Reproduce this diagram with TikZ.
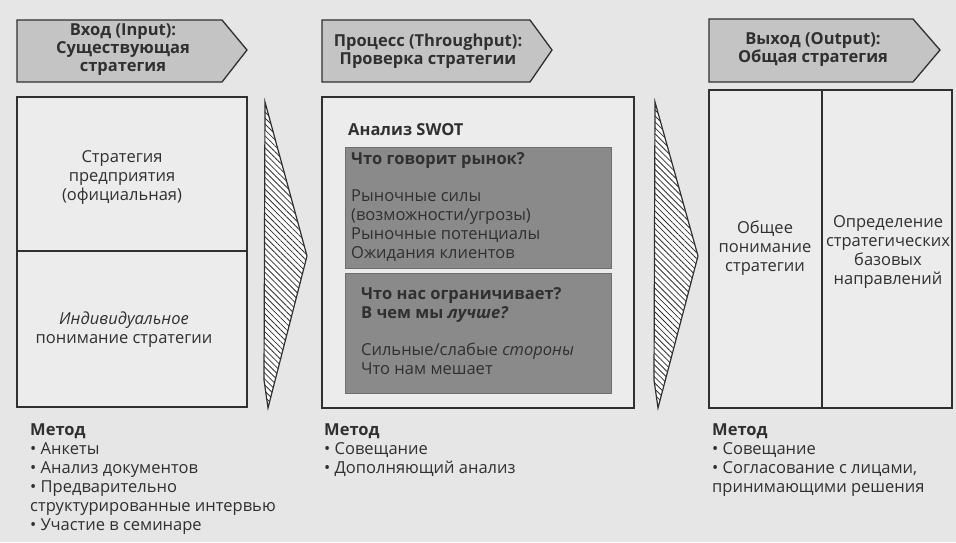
\documentclass[tikz,border=0pt]{standalone}
\usepackage{fontspec}
\setmainfont{Open Sans}
\usetikzlibrary{patterns.meta}
\definecolor{bg}{RGB}{230,230,230}
\definecolor{boxbg}{RGB}{236,236,236}
\definecolor{hdr}{RGB}{196,196,196}
\definecolor{dark}{RGB}{138,138,138}
\definecolor{ink}{RGB}{48,48,48}
\begin{document}
\begin{tikzpicture}[x=1pt,y=-1pt,
  frame/.style={draw=ink, line width=1.5pt, fill=boxbg},
  hdrbox/.style={draw=ink, line width=1.3pt, fill=hdr},
  darkbox/.style={fill=dark, draw=dark!80!black, line width=0.6pt},
  hatch/.style={draw=ink, line width=1.2pt, fill=white, postaction={pattern={Lines[angle=-45, distance=4.2pt, line width=0.8pt]}, pattern color=ink}},
  hdrtxt/.style={font=\fontsize{16.5}{18}\selectfont\bfseries, text=ink, align=center, inner sep=0pt},
  body/.style={font=\fontsize{16.5}{19}\selectfont, text=ink, align=center, inner sep=0pt},
  bodyl/.style={font=\fontsize{16.5}{19}\selectfont, text=ink, align=left, inner sep=0pt},
  bodyb/.style={bodyl, font=\fontsize{16.5}{19}\selectfont\bfseries},
]
\fill[bg] (0,0) rectangle (956,542);
\useasboundingbox (0,0) rectangle (956,542);

% headers
\draw[hdrbox] (17,20) -- (222,20) -- (247,50) -- (222,82) -- (17,82) -- cycle;
\node[hdrtxt] (h1) at (123,50) {Вход (Input):\\Существующая\\стратегия};
\draw[hdrbox] (322,20) -- (530,20) -- (552,50) -- (530,82) -- (322,82) -- cycle;
\node[hdrtxt] (h2) at (428,51) {Процесс (Throughput):\\Проверка стратегии};
\draw[hdrbox] (709,19) -- (913,19) -- (940,50) -- (913,82) -- (709,82) -- cycle;
\node[hdrtxt] (h3) at (813,49) {Выход (Output):\\Общая стратегия};

% column 1
\draw[frame] (17,97) rectangle (247,407);
\draw[ink, line width=2pt] (17,251) -- (247,251);
\node[body] (c1a) at (122,178) {Стратегия\\предприятия\\(официальная)};
\node[body] (c1b) at (124,330) {\textit{Индивидуальное}\\понимание стратегии};

% arrow 1
\draw[hatch] (265,102) -- (307,256) -- (268,408) -- (264,380) -- cycle;

% column 2
\draw[frame] (322,97) rectangle (634,408);
\node[bodyb, anchor=west] (swot) at (348,130) {Анализ SWOT};
\draw[darkbox] (345,147) rectangle (611,268);
\draw[darkbox] (345,273) rectangle (611,393);
\node[bodyb, anchor=west] (q1) at (351,161) {Что говорит рынок?};
\node[bodyl, anchor=north west] (l1) at (351,190) {Рыночные силы\\(возможности/угрозы)\\Рыночные потенциалы\\Ожидания клиентов};
\node[bodyb, anchor=north west] (q2) at (361,287) {Что нас ограничивает?\\В чем мы \textit{лучше?}};
\node[bodyl, anchor=north west] (l2) at (361,343) {Сильные/слабые \textit{стороны}\\Что нам мешает};

% arrow 2
\draw[hatch] (655,102) -- (698,256) -- (658,408) -- (654,380) -- cycle;

% column 3
\draw[frame] (709,90) rectangle (952,408);
\draw[ink, line width=1.5pt] (822,90) -- (822,408);
\node[body] (c3a) at (765,248) {Общее\\понимание\\стратегии};
\node[body] (c3b) at (888,252) {Определение\\стратегических\\базовых\\направлений};

% methods
\node[bodyl, anchor=north west] (m1) at (30,424) {\textbf{Метод}\\• Анкеты\\• Анализ документов\\• Предварительно\\структурированные интервью\\• Участие в семинаре};
\node[bodyl, anchor=north west] (m2) at (324,424) {\textbf{Метод}\\• Совещание\\• Дополняющий анализ};
\node[bodyl, anchor=north west] (m3) at (712,424) {\textbf{Метод}\\• Совещание\\• Согласование с лицами,\\принимающими решения};
\end{tikzpicture}
\end{document}
